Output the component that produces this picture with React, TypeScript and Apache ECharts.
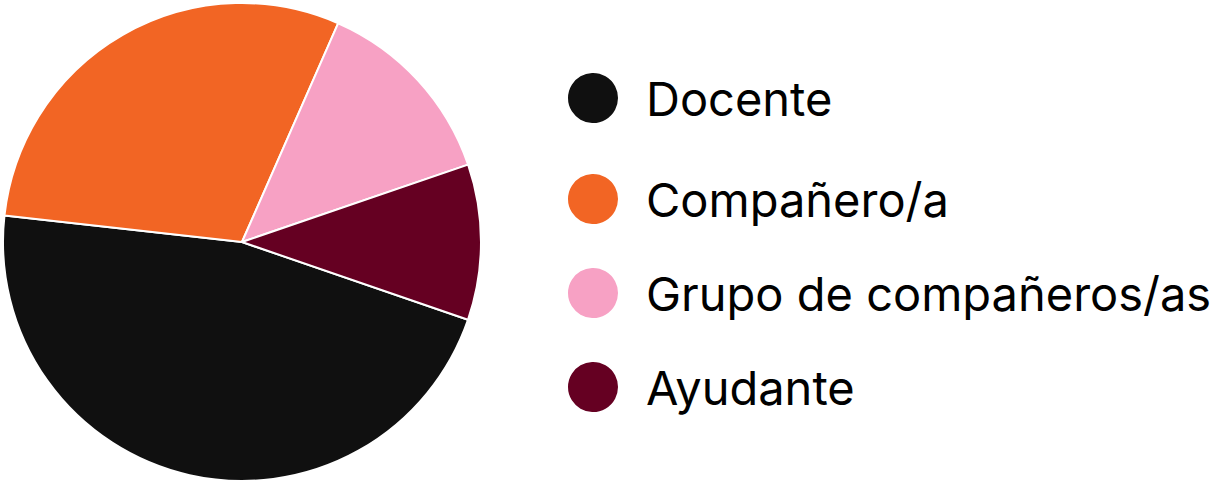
import { useEffect, useRef } from "react";
import * as echarts from "echarts";

// Categories and values (counts)
const categories = ["Docente", "Compañero/a", "Grupo de compañeros/as", "Ayudante"];
const values = [53, 34, 15, 12];
const colors = ["#101010", "#F26524", "#F7A1C4", "#650022"];

// Legend row tops (circle top edges)
const legendTops = [71, 172, 266, 360];

export default function App() {
  const chartRef = useRef<HTMLDivElement>(null);

  useEffect(() => {
    document.body.style.margin = "0";
    if (!chartRef.current) return;
    const chart = echarts.init(chartRef.current, undefined, { renderer: "svg" });

    chart.setOption({
      animation: false,
      color: colors,
      legend: categories.map((name, i) => ({
        data: [name],
        orient: "vertical",
        left: 566,
        top: legendTops[i],
        padding: 0,
        icon: "circle",
        itemWidth: 52,
        itemHeight: 52,
        selectedMode: false,
        textStyle: {
          fontFamily: "Inter",
          fontSize: 47,
          color: "#000",
          padding: [0, 0, 0, 22],
        },
      })),
      series: [
        {
          type: "pie",
          center: [242, 242],
          radius: 239,
          startAngle: -19,
          clockwise: true,
          silent: true,
          label: { show: false },
          labelLine: { show: false },
          itemStyle: { borderColor: "#fff", borderWidth: 2 },
          data: categories.map((name, i) => ({ name, value: values[i] })),
        },
      ],
    });

    return () => {
      chart.dispose();
    };
  }, []);

  return <div ref={chartRef} style={{ width: 1210, height: 484 }} />;
}
